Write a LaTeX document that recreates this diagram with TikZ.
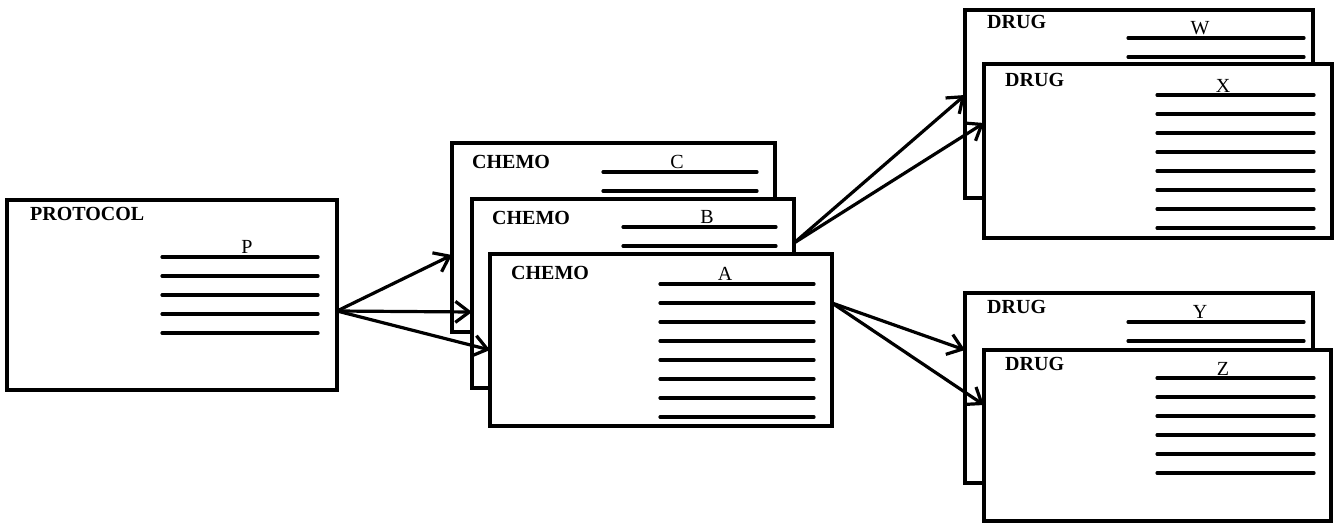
\documentclass[tikz,border=0pt]{standalone}
\usepackage{fontspec}
\setmainfont{Liberation Serif}
\usetikzlibrary{arrows.meta}

% ruled lines inside a card: x from, x to, first y, count
\newcommand{\cardrules}[4]{%
  \foreach \k in {1,...,#4}
    \draw[rule] (#1,{#3+19*(\k-1)}) -- (#2,{#3+19*(\k-1)});%
}

\begin{document}
\begin{tikzpicture}[
    x=1pt, y=-1pt,
    card/.style={
        draw,
        fill=white,
        line width=3.2pt,
        inner sep=0pt,
        outer sep=0pt,
        anchor=north west
    },
    title/.style={anchor=west, inner sep=0pt, font=\fontsize{20}{24}\selectfont\bfseries},
    letter/.style={anchor=base, inner sep=0pt, font=\fontsize{20}{24}\selectfont},
    rule/.style={line width=3.2pt, line cap=round},
    link/.style={line width=3.2pt, line cap=round, -{Straight Barb[length=14pt,width=21pt,line width=3.2pt]}}
]
\useasboundingbox (0,0) rectangle (1338,525);

% Protocol
\node[card, minimum width=330pt, minimum height=190pt] (P) at (7,200) {};
\node[title] (Pt) at (30,214) {PROTOCOL};
\node[letter] (Pl) at (247,253) {P};
\cardrules{162}{318}{257}{5}

% Chemo cards, back to front
\node[card, minimum width=323pt, minimum height=189pt] (C) at (452,143) {};
\node[title] (Ct) at (472,162) {CHEMO};
\node[letter] (Cl) at (677,168) {C};
\cardrules{603}{757}{172}{2}

\node[card, minimum width=322pt, minimum height=189pt] (B) at (472,199) {};
\node[title] (Bt) at (492,218) {CHEMO};
\node[letter] (Bl) at (707,223) {B};
\cardrules{623}{776}{227}{2}

\node[card, minimum width=342pt, minimum height=172pt] (A) at (490,254) {};
\node[title] (At) at (511,273) {CHEMO};
\node[letter] (Al) at (725,280) {A};
\cardrules{660}{814}{284}{8}

% Drug cards, upper pair
\node[card, minimum width=348pt, minimum height=188pt] (W) at (965,10) {};
\node[title] (Wt) at (987,22) {DRUG};
\node[letter] (Wl) at (1200,34) {W};
\cardrules{1128}{1304}{38}{2}

\node[card, minimum width=348pt, minimum height=174pt] (X) at (984,64) {};
\node[title] (Xt) at (1005,80) {DRUG};
\node[letter] (Xl) at (1223,92) {X};
\cardrules{1157}{1314}{95}{8}

% Drug cards, lower pair
\node[card, minimum width=348pt, minimum height=190pt] (Y) at (965,293) {};
\node[title] (Yt) at (987,307) {DRUG};
\node[letter] (Yl) at (1200,318) {Y};
\cardrules{1128}{1304}{322}{2}

\node[card, minimum width=347pt, minimum height=171pt] (Z) at (984,350) {};
\node[title] (Zt) at (1005,364) {DRUG};
\node[letter] (Zl) at (1223,375) {Z};
\cardrules{1157}{1314}{378}{6}

% Links
\draw[link] ([yshift=-16pt]P.east) -- ([yshift=-17.5pt]C.west);
\draw[link] ([yshift=-16pt]P.east) -- ([yshift=-18.5pt]B.west);
\draw[link] ([yshift=-16pt]P.east) -- ([yshift=-10pt]A.west);
\draw[link] ([yshift=50.5pt]B.east) -- ([yshift=9pt]W.west);
\draw[link] ([yshift=50.5pt]B.east) -- ([yshift=28pt]X.west);
\draw[link] ([yshift=37pt]A.east) -- ([yshift=38pt]Y.west);
\draw[link] ([yshift=37pt]A.east) -- ([yshift=30.5pt]Z.west);

\end{tikzpicture}
\end{document}
